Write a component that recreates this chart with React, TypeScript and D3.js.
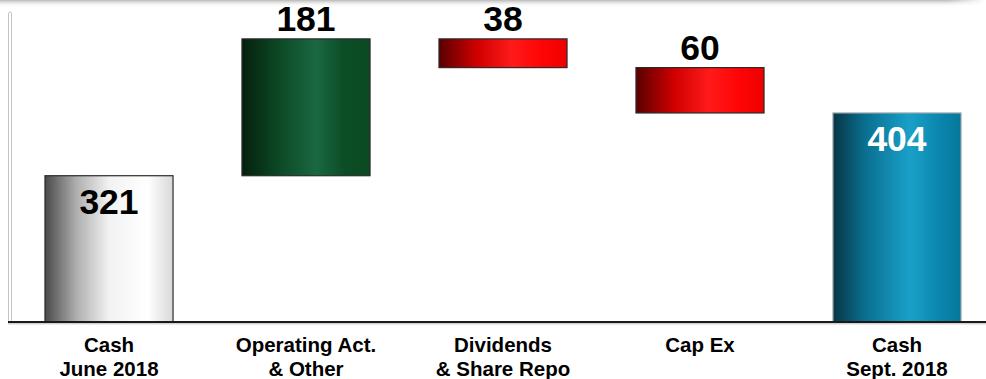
import React from "react";
import * as d3 from "d3";

const categories = ["Cash|June 2018", "Operating Act.|& Other", "Dividends|& Share Repo", "Cap Ex", "Cash|Sept. 2018"];
const values = [321, 181, -38, -60, 404];
const kinds = ["total", "up", "down", "down", "total"];
const valueLabels = ["321", "181", "38", "60", "404"];

const W = 986;
const H = 379;

export default function App() {
  let running = 0;
  const spans = values.map((v, i) => {
    if (kinds[i] === "total") {
      running = v;
      return { lo: 0, hi: v };
    }
    const start = running;
    running = running + v;
    return { lo: Math.min(start, running), hi: Math.max(start, running) };
  });

  const x = d3.scaleBand<number>().domain(d3.range(categories.length)).range([10.5, 995.5]).paddingInner(0.35).paddingOuter(0.175);
  const y = d3.scaleLinear().domain([127.5, 525]).range([322, 21.5]);
  const baseY = y(127.5);

  const fills = { total0: "gTotal0", up: "gUp", down: "gDown", total1: "gTotal1" } as any;

  return (
    <svg width={W} height={H} style={{ position: "absolute", left: 0, top: 0, display: "block" }}>
      <defs>
        <linearGradient id="gTotal0" x1="0" x2="1" y1="0" y2="0">
          <stop offset="0" stopColor="#4a4a4a" />
          <stop offset="0.25" stopColor="#b0b0b0" />
          <stop offset="0.5" stopColor="#f2f2f2" />
          <stop offset="0.8" stopColor="#ffffff" />
          <stop offset="1" stopColor="#d8d8d8" />
        </linearGradient>
        <linearGradient id="gUp" x1="0" x2="1" y1="0" y2="0">
          <stop offset="0" stopColor="#05200e" />
          <stop offset="0.3" stopColor="#0d4a26" />
          <stop offset="0.58" stopColor="#1a6842" />
          <stop offset="0.8" stopColor="#0b4d25" />
          <stop offset="1" stopColor="#0a4a22" />
        </linearGradient>
        <linearGradient id="gDown" x1="0" x2="1" y1="0" y2="0">
          <stop offset="0" stopColor="#5a0000" />
          <stop offset="0.3" stopColor="#d00000" />
          <stop offset="0.57" stopColor="#ff1a1a" />
          <stop offset="0.8" stopColor="#ff0505" />
          <stop offset="1" stopColor="#ee0000" />
        </linearGradient>
        <linearGradient id="gTotal1" x1="0" x2="1" y1="0" y2="0">
          <stop offset="0" stopColor="#083545" />
          <stop offset="0.25" stopColor="#0a6f90" />
          <stop offset="0.6" stopColor="#1aa0c8" />
          <stop offset="0.85" stopColor="#0a84ab" />
          <stop offset="1" stopColor="#07779c" />
        </linearGradient>
        <linearGradient id="topShade" x1="0" x2="0" y1="0" y2="1">
          <stop offset="0" stopColor="#b8b8b8" />
          <stop offset="1" stopColor="#ffffff" stopOpacity="0" />
        </linearGradient>
        <linearGradient id="topFade" x1="0" x2="1" y1="0" y2="0">
          <stop offset="0" stopColor="#fff" />
          <stop offset="0.96" stopColor="#fff" />
          <stop offset="1" stopColor="#000" />
        </linearGradient>
        <mask id="topMask">
          <rect x={0} y={0} width={W} height={8} fill="url(#topFade)" />
        </mask>
      </defs>
      <rect x={0} y={0} width={W} height={H} fill="#ffffff" />
      <rect x={0} y={0} width={W} height={7} fill="url(#topShade)" mask="url(#topMask)" />
      <rect x={8.5} y={12} width={3} height={baseY - 12} rx={1.5} fill="#ffffff" stroke="#c4c4c4" strokeWidth={1} />
      {values.map((v, i) => {
        const s = spans[i];
        const yTop = y(s.hi);
        const yBot = kinds[i] === "total" ? baseY : y(s.lo);
        const key = kinds[i] === "total" ? (i === 0 ? "total0" : "total1") : kinds[i];
        const stroke = i === 4 ? "#9aa6ab" : "#2a2a2a";
        return (
          <rect key={i} x={x(i)!} y={yTop} width={x.bandwidth()} height={yBot - yTop} fill={`url(#${fills[key]})`} stroke={stroke} strokeWidth={1.2} />
        );
      })}
      <line x1={8} x2={W} y1={baseY} y2={baseY} stroke="#1a1a1a" strokeWidth={2} />
      <line x1={8} x2={W} y1={baseY + 1.8} y2={baseY + 1.8} stroke="#bdbdbd" strokeWidth={1} />
      {values.map((v, i) => {
        const s = spans[i];
        const cx = x(i)! + x.bandwidth() / 2;
        const isTotal = kinds[i] === "total";
        const ty = isTotal ? y(s.hi) + 38 : y(s.hi) - 8;
        return (
          <text key={i} x={cx} y={ty} textAnchor="middle" fontFamily="Liberation Sans, Arial, sans-serif" fontWeight="bold" fontSize={35.5} fill={i === 4 ? "#ffffff" : "#000000"}>
            {valueLabels[i]}
          </text>
        );
      })}
      {categories.map((c, i) => {
        const cx = x(i)! + x.bandwidth() / 2;
        return (
          <text key={i} x={cx} textAnchor="middle" fontFamily="Liberation Sans, Arial, sans-serif" fontWeight="bold" fontSize={20.5} fill="#000">
            {c.split("|").map((line, j) => (
              <tspan key={j} x={cx} y={352 + j * 23.5}>{line}</tspan>
            ))}
          </text>
        );
      })}
    </svg>
  );
}
